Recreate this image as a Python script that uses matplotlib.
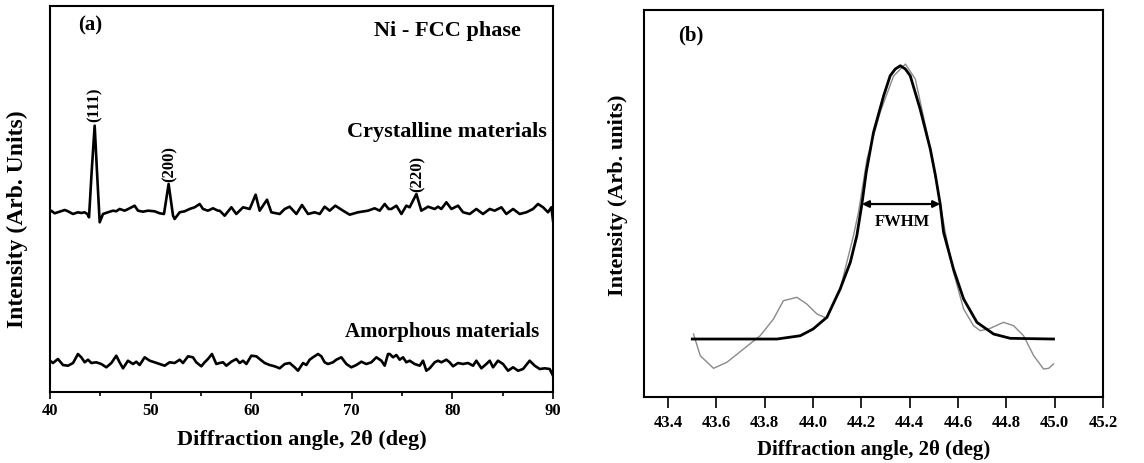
import matplotlib
matplotlib.use("Agg")
import matplotlib.pyplot as plt

plt.rcParams['font.family'] = ['Liberation Serif', 'DejaVu Serif']
plt.rcParams['font.weight'] = 'bold'

# ---- panel (a): XRD patterns, 2theta (deg) vs intensity (arb.)
cryst_x = [40.00, 40.13, 40.46, 40.96, 41.46, 41.79, 42.28, 42.78, 43.11, 43.44,
           43.71, 43.88, 44.14, 44.44, 44.70, 44.94, 45.27, 45.76, 46.26, 46.59,
           46.92, 47.42, 47.92, 48.41, 48.75, 49.24, 49.74, 50.40, 50.90, 51.33,
           51.79, 52.23, 52.39, 52.89, 53.39, 53.88, 54.38, 54.88, 55.21, 55.70,
           56.20, 56.70, 56.87, 57.36, 58.03, 58.52, 59.19, 59.85, 60.44, 60.84,
           61.57, 62.00, 62.83, 63.33, 63.82, 64.49, 65.05, 65.65, 66.31, 66.81,
           67.30, 67.80, 68.36, 69.13, 69.79, 70.62, 71.61, 72.27, 72.77, 73.27,
           73.66, 73.93, 74.43, 74.93, 75.42, 75.75, 76.42, 76.91, 77.58, 78.24,
           78.57, 78.90, 79.40, 79.90, 80.56, 81.06, 81.72, 82.38, 83.04, 83.71,
           84.20, 84.87, 85.36, 86.03, 86.69, 87.35, 88.01, 88.51, 89.01, 89.50,
           89.84, 90.00]
cryst_y = [180.0, 181.3, 178.7, 180.3, 182.0, 180.7, 178.0, 179.7, 179.0, 179.7,
           178.0, 174.7, 220.0, 266.3, 215.0, 169.7, 178.0, 179.7, 181.3, 180.7,
           183.0, 181.3, 183.7, 186.3, 181.3, 180.3, 181.3, 180.7, 178.7, 178.0,
           208.0, 176.3, 173.0, 179.7, 180.7, 183.0, 184.7, 188.0, 183.0, 181.3,
           183.7, 181.3, 181.3, 176.3, 184.7, 178.0, 184.7, 183.0, 197.3, 181.3,
           192.3, 179.7, 178.0, 183.0, 185.3, 178.0, 187.0, 178.0, 179.7, 178.0,
           185.3, 181.3, 186.3, 181.3, 177.3, 179.7, 181.3, 183.7, 181.3, 188.0,
           183.0, 183.0, 186.3, 178.0, 186.3, 184.7, 198.0, 181.3, 185.3, 183.0,
           185.3, 183.0, 189.7, 183.0, 186.3, 179.7, 178.0, 183.0, 178.0, 183.0,
           181.3, 184.7, 178.0, 183.0, 178.0, 179.7, 183.0, 188.0, 184.7, 179.7,
           184.7, 171.3]

amorph_x = [40.00, 40.30, 40.79, 41.29, 41.79, 42.29, 42.78, 43.11, 43.45, 43.78,
            44.11, 44.60, 45.10, 45.60, 46.10, 46.59, 46.92, 47.26, 47.75, 48.25,
            48.58, 48.91, 49.41, 49.91, 50.40, 50.90, 51.40, 51.89, 52.39, 52.89,
            53.22, 53.72, 54.21, 54.54, 55.04, 55.37, 55.70, 56.10, 56.53, 56.86,
            57.20, 57.53, 58.03, 58.52, 58.85, 59.19, 59.52, 60.01, 60.51, 60.84,
            61.34, 61.84, 62.33, 62.83, 63.33, 63.82, 64.32, 64.65, 65.15, 65.48,
            65.81, 66.14, 66.64, 66.97, 67.30, 67.63, 68.13, 68.46, 68.96, 69.46,
            69.95, 70.45, 70.95, 71.44, 71.94, 72.44, 72.94, 73.27, 73.60, 73.77,
            74.10, 74.43, 74.76, 75.09, 75.42, 75.75, 76.25, 76.75, 77.08, 77.41,
            77.74, 78.24, 78.57, 78.90, 79.40, 79.73, 80.06, 80.56, 81.06, 81.55,
            82.05, 82.38, 82.88, 83.37, 83.71, 84.04, 84.53, 85.03, 85.53, 86.03,
            86.52, 87.02, 87.68, 88.18, 88.68, 89.17, 89.67, 90.00]
amorph_y = [31.3, 29.0, 33.0, 27.0, 26.3, 29.0, 38.0, 34.7, 29.7, 32.3,
            29.0, 29.7, 28.0, 24.7, 29.0, 36.3, 29.7, 23.7, 31.3, 28.0,
            30.3, 27.0, 34.7, 31.3, 29.7, 28.0, 26.3, 29.7, 29.0, 32.3,
            29.0, 35.7, 34.7, 29.7, 25.7, 29.7, 33.0, 38.0, 28.0, 29.0,
            29.7, 26.3, 30.3, 33.0, 29.0, 31.3, 28.0, 36.3, 35.7, 33.0,
            29.0, 27.0, 25.7, 23.7, 28.0, 29.0, 24.7, 21.3, 29.0, 27.0,
            32.3, 34.7, 38.0, 35.7, 29.7, 28.0, 29.7, 32.3, 34.7, 28.0,
            24.7, 27.0, 30.3, 28.0, 29.7, 34.7, 31.3, 26.3, 38.0, 38.0,
            34.7, 37.0, 32.3, 34.7, 29.7, 31.3, 28.0, 26.3, 31.3, 21.3,
            23.7, 29.7, 31.3, 29.7, 32.3, 29.7, 25.7, 29.0, 28.0, 29.0,
            26.3, 31.3, 23.7, 28.0, 31.3, 24.7, 31.3, 28.0, 21.3, 24.7,
            21.3, 23.0, 31.3, 26.3, 23.0, 23.7, 23.0, 16.3]

peak_labels = ['(111)', '(200)', '(220)']
peak_pos = [44.42, 51.9, 76.5]
peak_lab_y = [288, 229, 219]

# ---- panel (b): (111) peak, measured profile and Gaussian fit
meas_x = [43.505, 43.533, 43.588, 43.643, 43.712, 43.781, 43.836, 43.877, 43.933, 43.974,
          44.016, 44.057, 44.112, 44.167, 44.188, 44.223, 44.278, 44.333, 44.382, 44.423,
          44.471, 44.513, 44.547, 44.581, 44.623, 44.664, 44.692, 44.733, 44.788, 44.830,
          44.871, 44.913, 44.954, 44.975, 44.995]
meas_y = [63.0, 41.3, 28.7, 34.7, 48.0, 61.3, 78.0, 96.3, 99.7, 93.0,
          83.0, 78.7, 108.0, 161.3, 185.0, 238.0, 285.0, 321.0, 333.0, 318.0,
          264.7, 211.3, 165.0, 124.7, 88.0, 71.3, 66.3, 68.7, 74.7, 71.3,
          61.3, 41.3, 28.0, 28.7, 33.0]

fit_x = [43.50, 43.851, 43.947, 44.000, 44.057, 44.112, 44.154, 44.181, 44.202, 44.22,
         44.250, 44.292, 44.319, 44.34, 44.361, 44.382, 44.402, 44.443, 44.485, 44.506,
         44.526, 44.540, 44.581, 44.623, 44.678, 44.747, 44.816, 44.995]
fit_y = [58.0, 58.0, 61.3, 68.0, 79.7, 108.0, 134.7, 161.3, 193.0, 225.0,
         264.7, 301.3, 321.3, 328.0, 331.3, 328.0, 321.3, 288.0, 248.0, 222.0,
         193.0, 164.7, 128.0, 98.0, 74.7, 63.0, 58.7, 58.0]

fwhm_lo, fwhm_hi, half_max = 44.202, 44.526, 193.0

fig = plt.figure(figsize=(11.44, 4.64), dpi=100)
ax1 = fig.add_axes([0.0437, 0.153, 0.4397, 0.832])
ax2 = fig.add_axes([0.5629, 0.1422, 0.4013, 0.834])

# panel (a)
ax1.plot(cryst_x, cryst_y, color='black', lw=1.9)
ax1.plot(amorph_x, amorph_y, color='black', lw=1.9)
ax1.set_xlim(40, 90)
ax1.set_ylim(0, 386)
ax1.set_xticks([40, 50, 60, 70, 80, 90])
ax1.set_xticks([45, 55, 65, 75, 85], minor=True)
ax1.set_yticks([])
ax1.tick_params(axis='x', which='major', direction='out', length=5, width=1.2,
                pad=2, labelsize=12)
ax1.tick_params(axis='x', which='minor', direction='out', length=3, width=1.2)
ax1.set_xlabel('Diffraction angle, 2θ (deg)', fontsize=16, fontweight='bold',
               labelpad=8)
ax1.set_ylabel('Intensity (Arb. Units)', fontsize=17, fontweight='bold')
ax1.yaxis.set_label_coords(-0.043, 0.45)
ax1.text(44.0, 367, '(a)', fontsize=15, ha='center', va='center')
ax1.text(79.5, 362, 'Ni - FCC phase', fontsize=16, ha='center', va='center')
ax1.text(79.5, 261, 'Crystalline materials', fontsize=16, ha='center', va='center')
ax1.text(79.0, 61, 'Amorphous materials', fontsize=15, ha='center', va='center')
for lab, px, py in zip(peak_labels, peak_pos, peak_lab_y):
    ax1.text(px, py, lab, fontsize=12, rotation=90, ha='center', va='center')

# panel (b)
ax2.plot(meas_x, meas_y, color='#8a8a8a', lw=1.0)
ax2.plot(fit_x, fit_y, color='black', lw=2.0)
ax2.annotate('', xy=(fwhm_lo, half_max), xytext=(fwhm_hi, half_max),
             arrowprops=dict(arrowstyle='<|-|>', color='black', lw=1.6,
                             mutation_scale=10, shrinkA=0, shrinkB=0))
ax2.text(44.371, 176, 'FWHM', fontsize=12, ha='center', va='center')
ax2.text(43.495, 363, '(b)', fontsize=15, ha='center', va='center')
ax2.set_xlim(43.3, 45.2)
ax2.set_ylim(0, 387)
ax2.set_xticks([43.4 + 0.2 * i for i in range(10)])
ax2.set_xticklabels(['%.1f' % (43.4 + 0.2 * i) for i in range(10)])
ax2.set_yticks([])
ax2.tick_params(axis='x', direction='out', length=8, width=1.2, pad=4,
                labelsize=12)
ax2.set_xlabel('Diffraction angle, 2θ (deg)', fontsize=15, fontweight='bold',
               labelpad=7)
ax2.set_ylabel('Intensity (Arb. units)', fontsize=16, fontweight='bold')
ax2.yaxis.set_label_coords(-0.034, 0.525)

for ax in (ax1, ax2):
    for sp in ax.spines.values():
        sp.set_linewidth(1.5)
    for t in ax.get_xticklabels():
        t.set_fontweight('bold')

fig.savefig('out.png', dpi=100)
